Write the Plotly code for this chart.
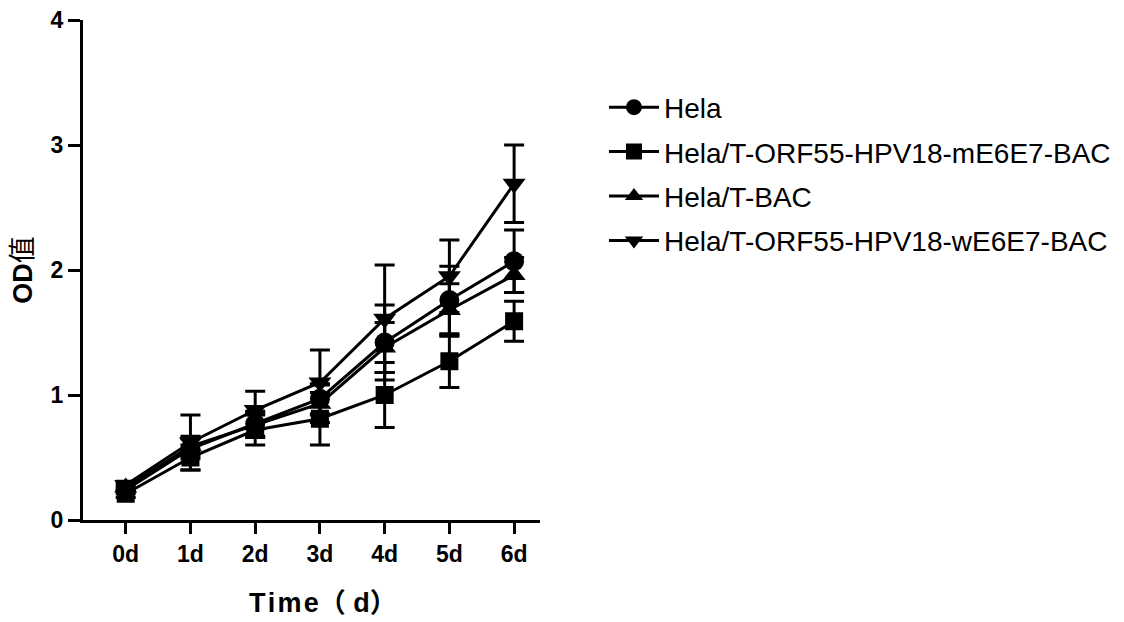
import plotly.graph_objects as go

days = ["0d", "1d", "2d", "3d", "4d", "5d", "6d"]
series_names = ["Hela", "Hela/T-ORF55-HPV18-mE6E7-BAC", "Hela/T-BAC", "Hela/T-ORF55-HPV18-wE6E7-BAC"]
hela = [0.24, 0.57, 0.77, 0.97, 1.42, 1.76, 2.07]
hela_sd = [0.03, 0.08, 0.10, 0.12, 0.30, 0.27, 0.25]
m_e6e7 = [0.21, 0.50, 0.72, 0.81, 1.00, 1.27, 1.59]
m_e6e7_sd = [0.03, 0.10, 0.12, 0.21, 0.26, 0.21, 0.16]
t_bac = [0.26, 0.59, 0.76, 0.93, 1.38, 1.68, 1.96]
t_bac_sd = [0.03, 0.08, 0.10, 0.15, 0.20, 0.21, 0.14]
w_e6e7 = [0.28, 0.62, 0.88, 1.10, 1.61, 1.95, 2.69]
w_e6e7_sd = [0.03, 0.22, 0.15, 0.26, 0.43, 0.29, 0.31]
y_ticks = [0, 1, 2, 3, 4]
x_title = "T\u200ai\u200am\u200ae（ d）"
y_title = "<b>OD</b>值"

values = [hela, m_e6e7, t_bac, w_e6e7]
sds = [hela_sd, m_e6e7_sd, t_bac_sd, w_e6e7_sd]
symbols = ["circle", "square", "triangle-up", "triangle-down"]
sizes = [20, 18, 20, 20]

FONT = "Arial, 'Liberation Sans', 'Noto Sans CJK SC', sans-serif"

fig = go.Figure()
for i, name in enumerate(series_names):
    fig.add_trace(go.Scatter(
        x=days, y=values[i], name=name, mode="lines+markers",
        legendgroup=f"g{i}",
        line=dict(color="black", width=3),
        marker=dict(symbol=symbols[i], size=sizes[i], color="black"),
        error_y=dict(type="data", array=sds[i], visible=True,
                     color="black", thickness=3, width=10),
    ))

fig.add_annotation(
    text=x_title, xref="paper", yref="paper", x=0.526, y=-0.166,
    xanchor="center", yanchor="middle", showarrow=False,
    font=dict(size=27, family=FONT, weight="bold", color="black"),
)

fig.update_layout(
    width=1124, height=622,
    margin=dict(l=75, r=592, t=12, b=110),
    plot_bgcolor="white", paper_bgcolor="white",
    font=dict(family=FONT, color="black"),
    showlegend=True,
    legend=dict(
        x=1.14, xanchor="left", y=0.875, yanchor="top",
        font=dict(size=28, family=FONT, color="black"),
        traceorder="grouped", tracegroupgap=5, itemwidth=50,
        bgcolor="rgba(0,0,0,0)",
    ),
    xaxis=dict(
        type="category", range=[-0.66, 6.4], automargin=False,
        showline=True, linecolor="black", linewidth=3,
        ticks="outside", ticklen=11, tickwidth=3, tickcolor="black",
        showgrid=False, zeroline=False, ticklabeloverflow="allow",
        tickfont=dict(size=23, family=FONT, weight="bold"),
    ),
    yaxis=dict(
        range=[0, 4], tickvals=y_ticks, automargin=False,
        showline=True, linecolor="black", linewidth=3,
        ticks="outside", ticklen=12, tickwidth=3, tickcolor="black",
        showgrid=False, zeroline=False, ticklabeloverflow="allow",
        tickfont=dict(size=23, family=FONT, weight="bold"),
        title=dict(text=y_title, font=dict(size=27, family=FONT), standoff=12),
    ),
)

fig.write_html("out.html")
